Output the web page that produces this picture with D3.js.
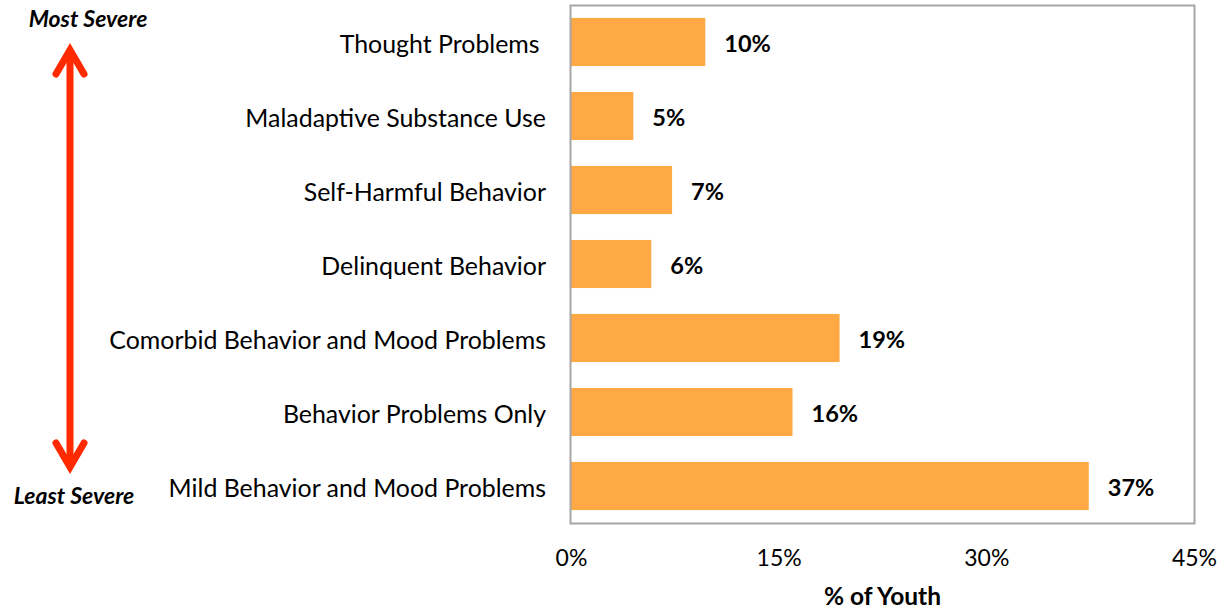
<!DOCTYPE html>
<html><head><meta charset="utf-8">
<script src="https://cdn.jsdelivr.net/npm/d3@7"></script>
<style>body{margin:0;background:#fff;} text{font-family:Lato,"Open Sans",sans-serif;}</style>
</head><body>
<svg id="chart" width="1225" height="613"></svg>
<script>
const categories = ["Thought Problems ","Maladaptive Substance Use","Self-Harmful Behavior","Delinquent Behavior","Comorbid Behavior and Mood Problems","Behavior Problems Only","Mild Behavior and Mood Problems"];
const values = [9.7, 4.5, 7.3, 5.8, 19.4, 16.0, 37.4];
const valueLabels = ["10%","5%","7%","6%","19%","16%","37%"];
const tickValues = [0, 15, 30, 45];
const tickLabels = ["0%","15%","30%","45%"];

const svg = d3.select("#chart");
const m = {left:571, right:1194, top:5, bottom:523};
const x = d3.scaleLinear().domain([0,45]).range([m.left, m.right]);
const y = d3.scaleBand().domain(categories).range([m.top, m.bottom]).paddingInner(0.35).paddingOuter(0.175);

// bars
svg.selectAll("rect.bar").data(categories).join("rect").attr("class","bar")
  .attr("x", x(0)).attr("y", d=>y(d)).attr("height", y.bandwidth())
  .attr("width", (d,i)=>x(values[i])-x(0)).attr("fill","#FFA945");

// frame
svg.append("rect").attr("x",m.left-0.5).attr("y",m.top+0.5).attr("width",m.right-m.left+1).attr("height",m.bottom-m.top)
  .attr("fill","none").attr("stroke","#a6a6a6").attr("stroke-width",2);

// value labels
svg.selectAll("text.val").data(categories).join("text").attr("class","val")
  .attr("x",(d,i)=>x(values[i])+19).attr("y",d=>y(d)+y.bandwidth()/2+2).attr("dy","0.36em")
  .attr("font-size",23.5).attr("font-weight","bold").attr("fill","#000").text((d,i)=>valueLabels[i]);

// category labels (y axis)
const yAxis = d3.axisLeft(y).tickSize(0).tickPadding(25);
const gy = svg.append("g").attr("transform",`translate(${m.left},2)`).call(yAxis);
gy.select(".domain").remove();
gy.selectAll("text").attr("font-size",24.9).attr("fill","#000").attr("dy","0.36em")
  .style("font-family","Lato").style("white-space","pre");

// x axis
const xAxis = d3.axisBottom(x).tickValues(tickValues).tickFormat((d,i)=>tickLabels[i]).tickSize(0).tickPadding(27);
const gx = svg.append("g").attr("transform",`translate(0,${m.bottom})`).call(xAxis);
gx.select(".domain").remove();
gx.selectAll("text").attr("font-size",23).attr("fill","#000").style("font-family","Lato");

svg.append("text").attr("x",(m.left+m.right)/2).attr("y",605).attr("text-anchor","middle")
  .attr("font-size",24.5).attr("font-weight","bold").text("% of Youth");

// severity arrow
const ax = 70;
svg.append("line").attr("x1",ax).attr("x2",ax).attr("y1",50).attr("y2",462).attr("stroke","#FF2A00").attr("stroke-width",7);
svg.append("path").attr("d",`M${ax-14},74 L${ax},50 L${ax+14},74`).attr("fill","none").attr("stroke","#FF2A00").attr("stroke-width",7).attr("stroke-linecap","round").attr("stroke-linejoin","miter");
svg.append("path").attr("d",`M${ax-14},443 L${ax},467 L${ax+14},443`).attr("fill","none").attr("stroke","#FF2A00").attr("stroke-width",7).attr("stroke-linecap","round").attr("stroke-linejoin","miter");
svg.append("text").attr("x",88).attr("y",27).attr("text-anchor","middle").attr("font-size",23)
  .attr("font-weight","bold").attr("font-style","italic").text("Most Severe");
svg.append("text").attr("x",74).attr("y",504).attr("text-anchor","middle").attr("font-size",23)
  .attr("font-weight","bold").attr("font-style","italic").text("Least Severe");
</script>
</body></html>
